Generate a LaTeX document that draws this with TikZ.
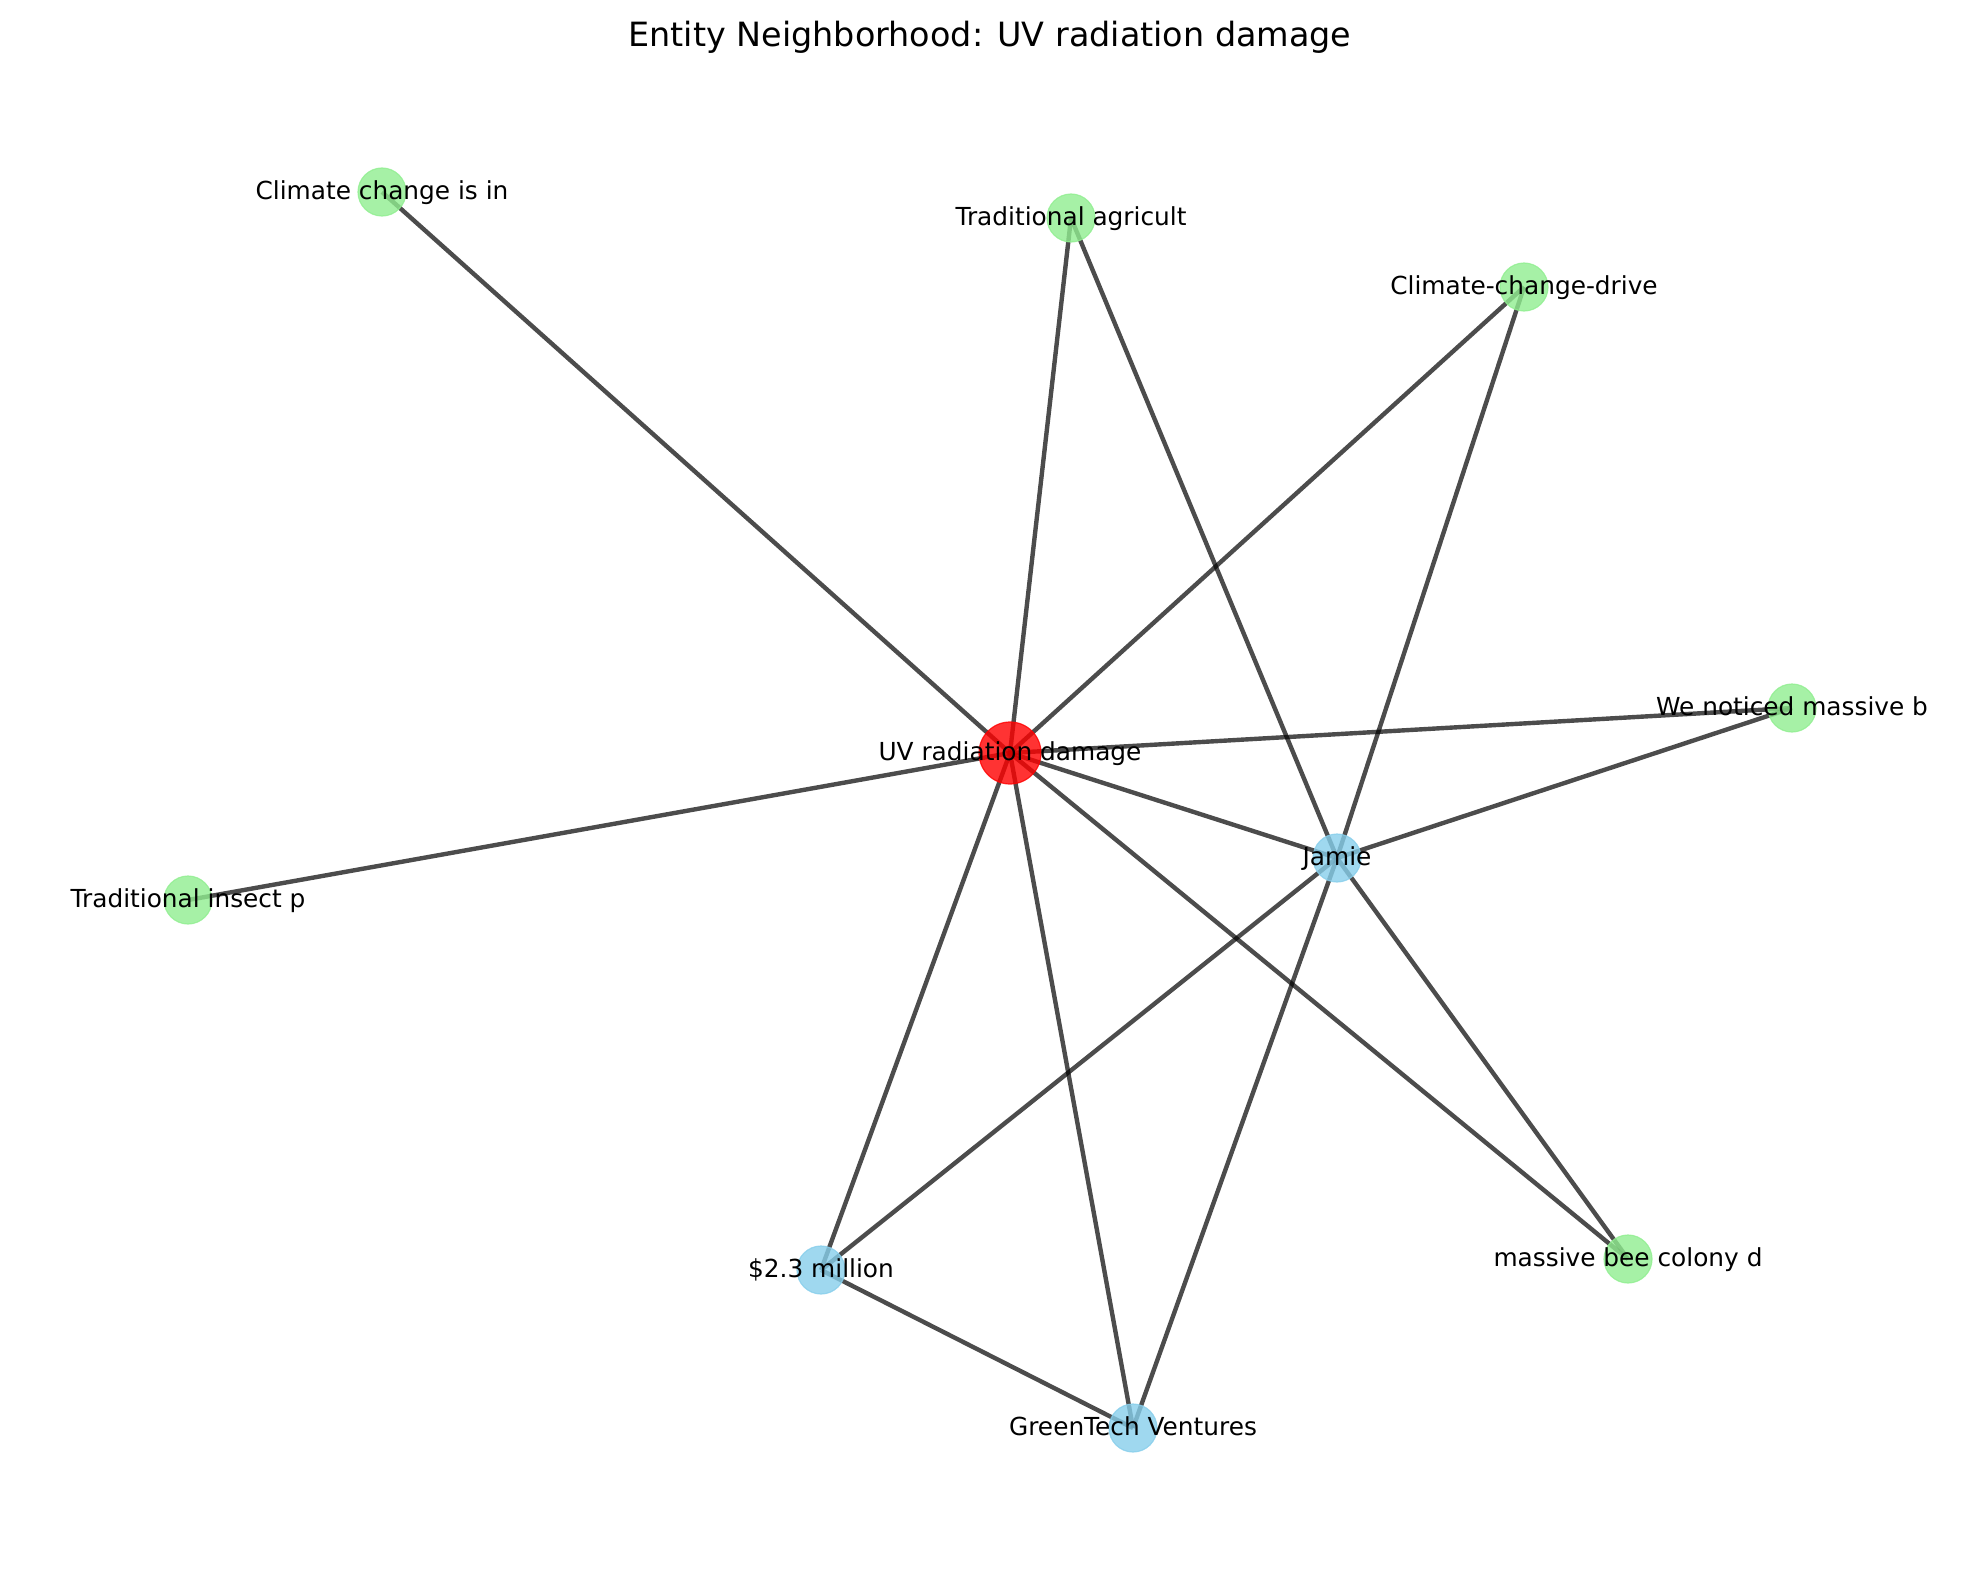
\documentclass[tikz,border=0pt]{standalone}
\usepackage{fontspec}
\setmainfont{DejaVu Sans}
\usetikzlibrary{positioning}
\definecolor{hubred}{HTML}{FF0000}
\definecolor{topicgreen}{HTML}{90EE90}
\definecolor{actorblue}{HTML}{87CEEB}

\begin{document}
\begin{tikzpicture}[x=0.5pt, y=-0.5pt,
    dot/.style={circle, inner sep=0pt, minimum size=24pt, line width=0.6pt, fill opacity=0.8, draw opacity=0.8},
    hub/.style={dot, fill=hubred, draw=hubred, minimum size=31pt},
    topic/.style={dot, fill=topicgreen, draw=topicgreen},
    actor/.style={dot, fill=actorblue, draw=actorblue},
    lbl/.style={anchor=base, inner sep=0pt, font=\fontsize{12.4}{14}\selectfont},
    link/.style={draw=black, draw opacity=0.7, line width=2.2pt}]
    \useasboundingbox (0,0) rectangle (1979,1578);

    \node[anchor=base, inner sep=0pt, font=\fontsize{16.7}{20}\selectfont] (title) at (990,47) {Entity Neighborhood: UV radiation damage};

    % node places
    \coordinate (uv) at (1010,753);
    \coordinate (climin) at (382,192);
    \coordinate (tradagr) at (1071,218);
    \coordinate (ccdrive) at (1524,287);
    \coordinate (noticed) at (1792,708);
    \coordinate (tradins) at (188,900);
    \coordinate (jamie) at (1337,858);
    \coordinate (million) at (821,1270);
    \coordinate (greentech) at (1133,1428);
    \coordinate (beecol) at (1628,1259);

    \draw[link] (uv) -- (climin);
    \draw[link] (uv) -- (tradagr);
    \draw[link] (uv) -- (ccdrive);
    \draw[link] (uv) -- (noticed);
    \draw[link] (uv) -- (tradins);
    \draw[link] (uv) -- (jamie);
    \draw[link] (uv) -- (million);
    \draw[link] (uv) -- (greentech);
    \draw[link] (uv) -- (beecol);
    \draw[link] (jamie) -- (tradagr);
    \draw[link] (jamie) -- (ccdrive);
    \draw[link] (jamie) -- (noticed);
    \draw[link] (jamie) -- (million);
    \draw[link] (jamie) -- (greentech);
    \draw[link] (jamie) -- (beecol);
    \draw[link] (million) -- (greentech);

    \node[hub] (uvdot) at (uv) {};
    \node[topic] (climindot) at (climin) {};
    \node[topic] (tradagrdot) at (tradagr) {};
    \node[topic] (ccdrivedot) at (ccdrive) {};
    \node[topic] (noticeddot) at (noticed) {};
    \node[topic] (tradinsdot) at (tradins) {};
    \node[actor] (jamiedot) at (jamie) {};
    \node[actor] (milliondot) at (million) {};
    \node[actor] (greentechdot) at (greentech) {};
    \node[topic] (beecoldot) at (beecol) {};

    % labels sit on the dots
    \node[lbl] at ([yshift=-3.7pt]uv) {UV radiation damage};
    \node[lbl] at ([yshift=-3.7pt]climin) {Climate change is in};
    \node[lbl] at ([yshift=-3.7pt]tradagr) {Traditional agricult};
    \node[lbl] at ([yshift=-3.7pt]ccdrive) {Climate-change-drive};
    \node[lbl] at ([yshift=-3.7pt]noticed) {We noticed massive b};
    \node[lbl] at ([yshift=-3.7pt]tradins) {Traditional insect p};
    \node[lbl] at ([yshift=-3.7pt]jamie) {Jamie};
    \node[lbl] at ([yshift=-3.7pt]million) {\$2.3 million};
    \node[lbl] at ([yshift=-3.7pt]greentech) {GreenTech Ventures};
    \node[lbl] at ([yshift=-3.7pt]beecol) {massive bee colony d};
\end{tikzpicture}
\end{document}
